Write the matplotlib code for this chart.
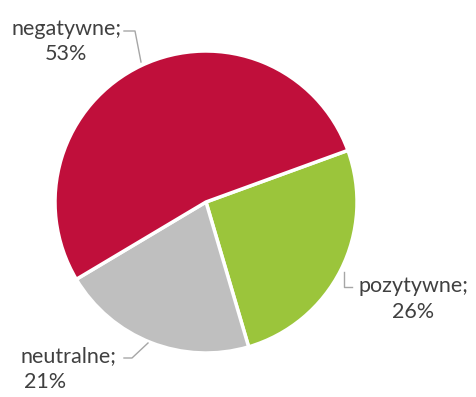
import matplotlib
matplotlib.use("Agg")
import matplotlib.pyplot as plt

# dane
categories = ["pozytywne", "neutralne", "negatywne"]
shares = [26, 21, 53]
colors = ["#9BC53B", "#BFBFBF", "#C00F3B"]
explode = [0.03, 0, 0]

W, H = 476, 397
fig = plt.figure(figsize=(W / 100, H / 100), dpi=100)
ax = fig.add_axes([0, 0, 1, 1])

cx, cy, r = 206, H - 202, 151
ax.pie(shares, colors=colors, startangle=20, counterclock=False, explode=explode,
       center=(cx, cy), radius=r, frame=True,
       wedgeprops=dict(edgecolor="white", linewidth=2.5))
ax.set_xlim(0, W); ax.set_ylim(0, H)
ax.set_aspect("equal"); ax.axis("off")

txt = dict(color="#404040", fontsize=15.5, family=["Lato", "DejaVu Sans"], ha="center", va="center")
line = dict(color="#A6A6A6", lw=1)

# etykiety (pozycje w pikselach)
labels = {
    "negatywne": (67, 29, 66, 54),
    "pozytywne": (413, 286, 413, 312),
    "neutralne": (68, 356, 45, 382),
}
for cat, val in zip(categories, shares):
    x1, y1, x2, y2 = labels[cat]
    ax.text(x1, H - y1, f"{cat};", **txt)
    ax.text(x2, H - y2, f"{val}%", **txt)

ax.plot([124, 135, 141], [H - 31, H - 31, H - 62], **line)
ax.plot([344, 344, 352], [H - 272, H - 287, H - 287], **line)
ax.plot([124, 132, 148], [H - 358, H - 358, H - 343], **line)

fig.savefig("out.png", dpi=100)
